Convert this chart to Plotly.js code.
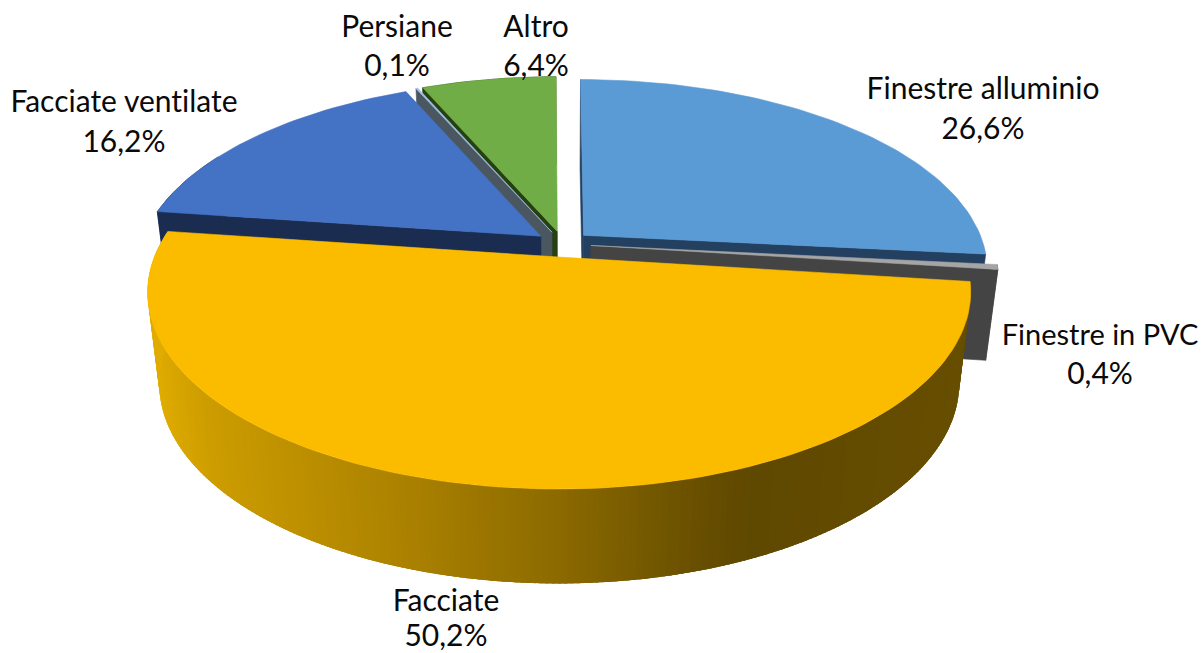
<!DOCTYPE html>
<html><head><meta charset="utf-8">
<script src="https://cdn.plot.ly/plotly-3.0.1.min.js"></script>
<style>html,body{margin:0;padding:0;background:#fff}#c{width:1203px;height:653px}
text{font-variant-ligatures:none;font-feature-settings:"liga" 0}</style>
</head><body><div id="c"></div>
<script>
const categories = ["Finestre alluminio","Finestre in PVC","Facciate","Facciate ventilate","Persiane","Altro"];
const values = [26.6,0.4,50.2,16.2,0.1,6.4];
const percentLabels = ["26,6%","0,4%","50,2%","16,2%","0,1%","6,4%"];
const topColors = ["#5b9bd5","#a5a5a5","#fbbc00","#4472c4","#9dc3e6","#70ad47"];
const sideColors = ["#244061","#444444","#6b5100","#1a2c50","#4a5660","#264010"];
const nameX = [983,1100,446,124,397,536];
const nameY = [91,338,603,104,29,29];
const nameSizes = [30,29,30,30,30,30];
const pctX = [983,1100,446,124,397,536];
const pctY = [131,376,638,144,68,68];

/* view model */
const CX=563, CY=244, A=400, B=186, K=0.176, EXPLODE=0.07;
const SHRINK_X=0.972, STRETCH_Y=1.016, DROP=90.5;
const rad=d=>d*Math.PI/180;
function project(x,y){const w=1+K*y;return [CX+A*x/w, CY-B*y/w];}
function bot(p){return [CX+SHRINK_X*(p[0]-CX), CY+DROP+STRETCH_Y*(p[1]-CY)];}

let cum=0;
const slices=values.map(v=>{const s=cum;cum+=v*3.6;return {a0:s,a1:cum,mid:s+v*1.8};});
function pt(sl,deg,r){
  const ox=EXPLODE*Math.sin(rad(sl.mid)), oy=EXPLODE*Math.cos(rad(sl.mid));
  return project(ox+r*Math.sin(rad(deg)), oy+r*Math.cos(rad(deg)));
}
function arc(sl,d0,d1){const n=Math.max(2,Math.ceil(Math.abs(d1-d0)/1.5));const o=[];
  for(let i=0;i<=n;i++)o.push(pt(sl,d0+(d1-d0)*i/n,1));return o;}
const traces=[];
function poly(pts,color,lw){
  const c=pts.concat([pts[0]]);
  traces.push({type:"scatter",mode:"lines",x:c.map(p=>p[0]),y:c.map(p=>p[1]),fill:"toself",
    fillcolor:color,line:{color:color,width:lw===undefined?0.6:lw},hoverinfo:"skip",showlegend:false});
}
function radialFace(sl,deg,color){
  const a=pt(sl,0,0),b=pt(sl,deg,1);poly([a,b,bot(b),bot(a)],color);
}
function wall(sl,d0,d1,color){const a=arc(sl,d0,d1);poly(a.concat(a.map(bot).reverse()),color);}
function topFace(sl,color){poly([pt(sl,0,0)].concat(arc(sl,sl.a0,sl.a1)),color);}

const gradStops=[[150,[224,172,0]],[210,[204,156,0]],[400,[172,130,0]],[560,[140,106,0]],[720,[100,76,0]],[760,[95,72,0]],[970,[103,78,0]]];
function gradAt(x){
  for(let i=1;i<gradStops.length;i++){ if(x<=gradStops[i][0]){
    const [x0,c0]=gradStops[i-1],[x1,c1]=gradStops[i],t=Math.max(0,(x-x0)/(x1-x0));
    return `rgb(${c0.map((c,j)=>Math.round(c+(c1[j]-c)*t)).join(",")})`;}}
  return `rgb(${gradStops[gradStops.length-1][1].join(",")})`;
}
const [ALU,PVC,FAC,VEN,PER,ALT]=slices;
/* back to front */
wall(ALT,ALT.a0,ALT.a1,sideColors[5]);radialFace(ALT,ALT.a0,sideColors[5]);topFace(ALT,topColors[5]);
radialFace(PER,PER.a0,sideColors[4]);topFace(PER,topColors[4]);
radialFace(ALU,ALU.a0,sideColors[0]);radialFace(ALU,ALU.a1,sideColors[0]);topFace(ALU,topColors[0]);
wall(PVC,PVC.a0,PVC.a1,sideColors[1]);radialFace(PVC,PVC.a1,sideColors[1]);topFace(PVC,topColors[1]);
wall(VEN,VEN.a0,VEN.a0+20,sideColors[3]);radialFace(VEN,VEN.a0,sideColors[3]);topFace(VEN,topColors[3]);
/* curved outer wall of the big slice: overlapping opaque bands so no seams show */
const stepDeg=0.75;
for(let d=FAC.a0;d<FAC.a1;d+=stepDeg){
  const a=arc(FAC,d,Math.min(d+stepDeg*2.5,FAC.a1));
  poly(a.concat(a.map(bot).reverse()),gradAt(pt(FAC,d,1)[0]),0);
}
topFace(FAC,topColors[2]);

const fontFamily="Lato, 'Open Sans', sans-serif", textColor="#0a0a0a";
traces.push({type:"scatter",mode:"text",x:nameX,y:nameY,text:categories,textposition:"middle center",textfont:{family:fontFamily,size:nameSizes,color:textColor},hoverinfo:"skip",showlegend:false,cliponaxis:false});
traces.push({type:"scatter",mode:"text",x:pctX,y:pctY,text:percentLabels,textposition:"middle center",textfont:{family:fontFamily,size:30,color:textColor},hoverinfo:"skip",showlegend:false,cliponaxis:false});

Plotly.newPlot("c",traces,{
  width:1203,height:653,margin:{l:0,r:0,t:0,b:0},paper_bgcolor:"#fff",plot_bgcolor:"#fff",showlegend:false,
  xaxis:{range:[0,1203],visible:false,fixedrange:true},
  yaxis:{range:[653,0],visible:false,fixedrange:true}
},{staticPlot:true,displayModeBar:false});
</script></body></html>
